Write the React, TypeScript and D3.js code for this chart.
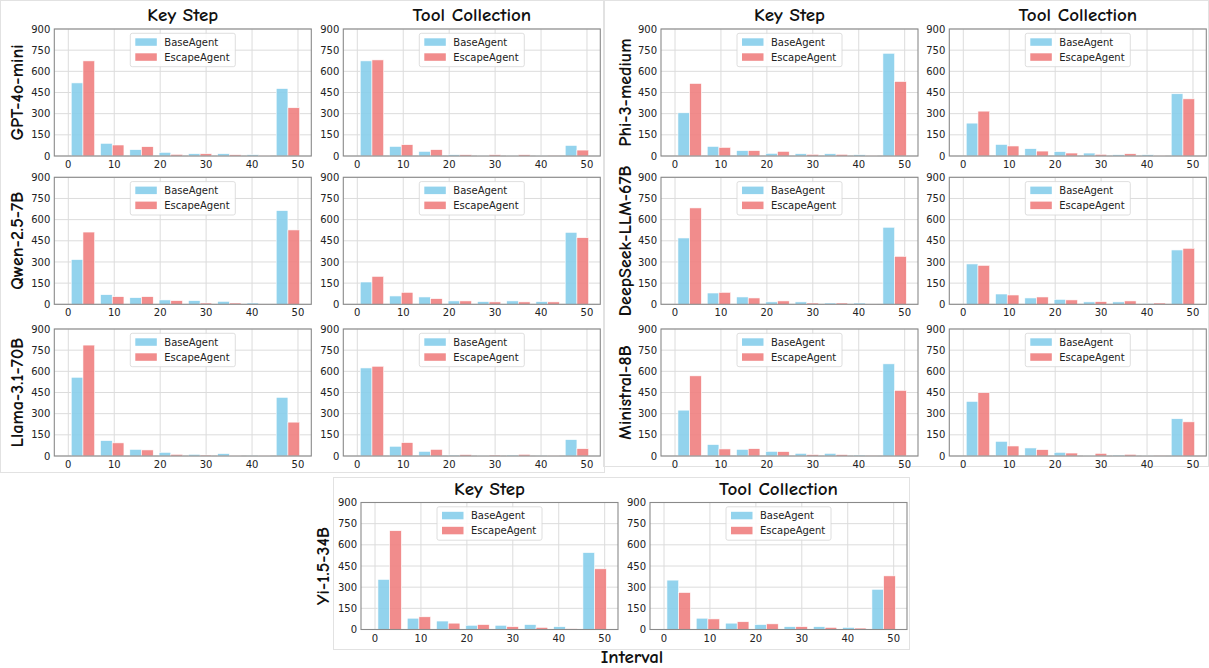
import React from "react";
import * as d3 from "d3";

// ---------- data ----------
const xTicks = [0, 10, 20, 30, 40, 50];
const yTicks = [0, 150, 300, 450, 600, 750, 900];
const binStart = 0;
const binEnd = 51;
const binCount = 8;
const seriesNames = ["BaseAgent", "EscapeAgent"];
const panelTitles = ["Key Step", "Tool Collection"];
const models = ["GPT-4o-mini", "Qwen-2.5-7B", "Llama-3.1-70B", "Phi-3-medium", "DeepSeek-LLM-67B", "Ministral-8B", "Yi-1.5-34B"];

const gptKeyBase = [518, 90, 45, 26, 16, 16, 9, 478];
const gptKeyEscape = [674, 78, 66, 12, 16, 9, 5, 342];
const gptToolBase = [674, 68, 33, 9, 5, 5, 5, 75];
const gptToolEscape = [681, 80, 45, 9, 9, 9, 2, 42];

const qwenKeyBase = [317, 68, 47, 31, 26, 21, 9, 664];
const qwenKeyEscape = [512, 54, 54, 26, 9, 9, 2, 527];
const qwenToolBase = [158, 59, 52, 24, 19, 24, 19, 510];
const qwenToolEscape = [198, 85, 40, 24, 17, 17, 17, 472];

const llamaKeyBase = [558, 109, 47, 26, 12, 17, 2, 416];
const llamaKeyEscape = [786, 93, 43, 12, 7, 5, 5, 240];
const llamaToolBase = [624, 69, 33, 7, 5, 7, 2, 116];
const llamaToolEscape = [636, 95, 47, 10, 7, 12, 5, 52];

const phiKeyBase = [306, 68, 38, 19, 16, 16, 9, 728];
const phiKeyEscape = [514, 61, 38, 33, 12, 12, 5, 528];
const phiToolBase = [233, 82, 52, 31, 21, 9, 9, 441];
const phiToolEscape = [318, 71, 35, 21, 12, 16, 5, 405];

const deepseekKeyBase = [470, 80, 52, 17, 17, 9, 9, 546];
const deepseekKeyEscape = [683, 85, 45, 24, 9, 9, 2, 340];
const deepseekToolBase = [286, 73, 45, 35, 17, 17, 5, 385];
const deepseekToolEscape = [276, 66, 52, 31, 19, 24, 9, 397];

const ministralKeyBase = [325, 81, 47, 33, 19, 19, 7, 653];
const ministralKeyEscape = [568, 50, 52, 31, 10, 10, 2, 465];
const ministralToolBase = [387, 104, 57, 26, 5, 7, 5, 264];
const ministralToolEscape = [449, 71, 45, 21, 19, 12, 2, 242];

const yiKeyBase = [355, 80, 60, 30, 30, 35, 20, 545];
const yiKeyEscape = [700, 90, 45, 35, 20, 15, 5, 430];
const yiToolBase = [350, 80, 45, 35, 20, 20, 15, 285];
const yiToolEscape = [262, 75, 55, 40, 20, 15, 10, 380];

const modelData = [
  [[gptKeyBase, gptKeyEscape], [gptToolBase, gptToolEscape]],
  [[qwenKeyBase, qwenKeyEscape], [qwenToolBase, qwenToolEscape]],
  [[llamaKeyBase, llamaKeyEscape], [llamaToolBase, llamaToolEscape]],
  [[phiKeyBase, phiKeyEscape], [phiToolBase, phiToolEscape]],
  [[deepseekKeyBase, deepseekKeyEscape], [deepseekToolBase, deepseekToolEscape]],
  [[ministralKeyBase, ministralKeyEscape], [ministralToolBase, ministralToolEscape]],
  [[yiKeyBase, yiKeyEscape], [yiToolBase, yiToolEscape]],
];

// ---------- layout ----------
const W = 1209;
const H = 668;
const AX_W = 257;
const AX_H = 127;
// [keyLeft, toolLeft, axesTop, labelBaselineX, showTitle]
const layout: [number, number, number, number, boolean][] = [
  [54.3, 343.3, 29, 23, true],
  [54.3, 343.3, 177.3, 23, false],
  [54.3, 343.3, 329, 23, false],
  [661, 949.3, 29, 631, true],
  [661, 949.3, 177.3, 631, false],
  [661, 949.3, 329, 631, false],
  [361, 650, 502.5, 329, true],
];

const COLORS = ["#87CEEB", "#F08080"];
const TICK_FONT = "'DejaVu Sans', sans-serif";
const COMIC_FONT = "'Comic Neue', 'DejaVu Sans', sans-serif";

function Panel({ left, top, title, series, showTitle }: { left: number; top: number; title: string; series: number[][]; showTitle: boolean }) {
  const x = d3.scaleLinear().domain([-3.05, 52.9]).range([left, left + AX_W]);
  const y = d3.scaleLinear().domain([0, 900]).range([top + AX_H, top]);
  const bw = (binEnd - binStart) / binCount;
  const edges = d3.range(binCount).map((i) => binStart + i * bw);
  const legW = 105;
  const legH = 33.4;
  const legX = left + AX_W / 2 - legW / 2;
  const legY = top + 4.3;
  return (
    <g>
      {xTicks.map((t) => (
        <line key={"gx" + t} x1={x(t)} x2={x(t)} y1={top} y2={top + AX_H} stroke="#dcdcdc" strokeWidth={1} />
      ))}
      {yTicks.map((t) => (
        <line key={"gy" + t} x1={left} x2={left + AX_W} y1={y(t)} y2={y(t)} stroke="#dcdcdc" strokeWidth={1} />
      ))}
      {series.map((vals, si) =>
        vals.map((v, i) => {
          const x0 = edges[i] + bw * 0.1 + si * bw * 0.4;
          const x1 = x0 + bw * 0.4;
          return (
            <rect
              key={"b" + si + "-" + i}
              x={x(x0)}
              y={y(v)}
              width={x(x1) - x(x0)}
              height={y(0) - y(v)}
              fill={COLORS[si]}
              fillOpacity={0.9}
              stroke="#ffffff"
              strokeWidth={0.6}
            />
          );
        })
      )}
      <rect x={left} y={top} width={AX_W} height={AX_H} fill="none" stroke="#8a8a8a" strokeWidth={1.1} />
      {xTicks.map((t) => (
        <text key={"tx" + t} x={x(t)} y={top + AX_H + 12} textAnchor="middle" fontFamily={TICK_FONT} fontSize={10} fill="#222">
          {t}
        </text>
      ))}
      {yTicks.map((t) => (
        <text key={"ty" + t} x={left - 4} y={y(t) + 3.6} textAnchor="end" fontFamily={TICK_FONT} fontSize={10} fill="#222">
          {t}
        </text>
      ))}
      <rect x={legX} y={legY} width={legW} height={legH} rx={2} fill="#ffffff" fillOpacity={0.85} stroke="#d6d6d6" strokeWidth={0.8} />
      {seriesNames.map((name, si) => (
        <g key={"lg" + si}>
          <rect x={legX + 5} y={legY + 5 + si * 15} width={21.5} height={7.5} fill={COLORS[si]} fillOpacity={0.9} />
          <text x={legX + 34} y={legY + 12.5 + si * 15} fontFamily={TICK_FONT} fontSize={10} fill="#222">
            {name}
          </text>
        </g>
      ))}
      {showTitle && (
        <text x={left + AX_W / 2} y={top - 8} textAnchor="middle" fontFamily={COMIC_FONT} fontWeight={700} fontSize={19} fill="#111">
          {title}
        </text>
      )}
    </g>
  );
}

export default function App() {
  return (
    <div style={{ position: "absolute", left: 0, top: 0, width: W, height: H, background: "#fff" }}>
      <svg width={W} height={H} viewBox={`0 0 ${W} ${H}`} style={{ display: "block" }}>
        <rect x={0} y={0} width={W} height={H} fill="#fff" />
        <rect x={0.5} y={0.5} width={604} height={472} fill="none" stroke="#e2e2e2" strokeWidth={1} />
        <rect x={603.5} y={0.5} width={605} height={466} fill="none" stroke="#e2e2e2" strokeWidth={1} />
        <rect x={333.5} y={477.5} width={576} height={172} fill="none" stroke="#e2e2e2" strokeWidth={1} />
        {models.map((m, mi) => {
          const [kl, tl, top, lx, showTitle] = layout[mi];
          return (
            <g key={m}>
              <Panel left={kl} top={top} title={panelTitles[0]} series={modelData[mi][0]} showTitle={showTitle} />
              <Panel left={tl} top={top} title={panelTitles[1]} series={modelData[mi][1]} showTitle={showTitle} />
              <text
                transform={`translate(${lx},${top + AX_H / 2}) rotate(-90)`}
                textAnchor="middle"
                fontFamily={COMIC_FONT}
                fontWeight={700}
                fontSize={18}
                fill="#111"
              >
                {m}
              </text>
            </g>
          );
        })}
        <text x={632} y={663} textAnchor="middle" fontFamily={COMIC_FONT} fontWeight={700} fontSize={19} fill="#111">
          Interval
        </text>
      </svg>
    </div>
  );
}
